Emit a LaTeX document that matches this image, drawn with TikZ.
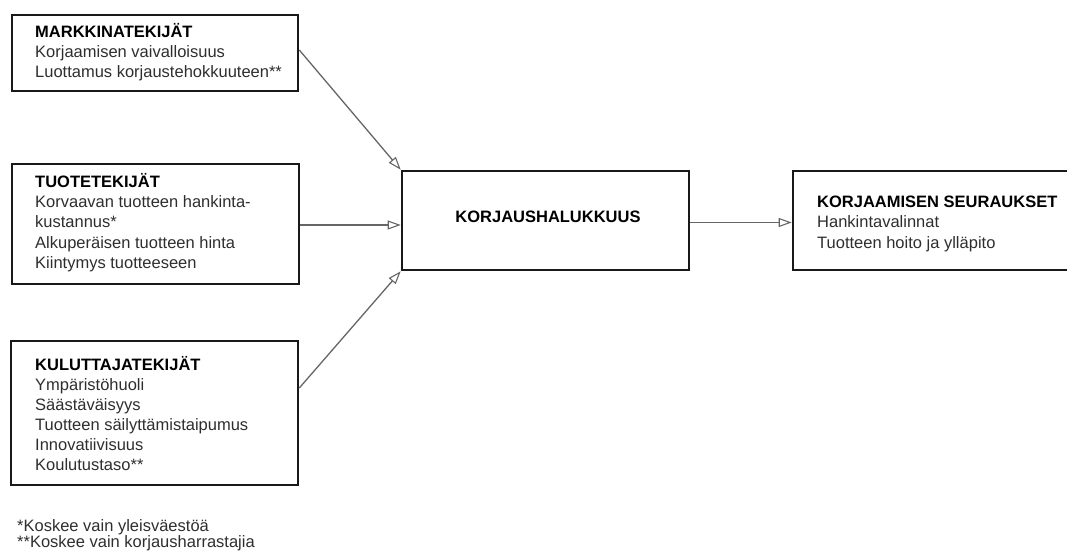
\documentclass[tikz,border=0pt]{standalone}
\usepackage{fontspec}
\setmainfont{Liberation Sans}
\usetikzlibrary{arrows.meta,calc}
\begin{document}
\begin{tikzpicture}[x=1pt,y=-1pt,
  box/.style={draw=black!90,line width=2.6pt,inner sep=0pt,rectangle},
  ttl/.style={anchor=base west,inner sep=0pt,font=\fontsize{16.5}{20}\selectfont\bfseries,text=black},
  txt/.style={anchor=base west,inner sep=0pt,font=\fontsize{16.5}{20}\selectfont,text=black!82},
  conn/.style={draw=black!60,line width=1.3pt,-{Triangle[open,length=13pt,width=9pt,line width=1.1pt]}}]
\useasboundingbox (0,0) rectangle (1067,553);
\clip (0,0) rectangle (1067,553);
% boxes
\node[box,minimum width=286pt,minimum height=76pt] (b1) at (155,53) {};
\node[box,minimum width=287pt,minimum height=120pt] (b2) at (155.5,224) {};
\node[box,minimum width=287pt,minimum height=144pt] (b3) at (154.5,413) {};
\node[box,minimum width=287pt,minimum height=99pt] (c) at (545.5,220.5) {};
\node[box,minimum width=287pt,minimum height=99pt] (r) at (936.5,220.5) {};
% texts
\node[ttl] (t1) at (35,38) {MARKKINATEKIJÄT};
\node[txt] (t1a) at (35,58) {Korjaamisen vaivalloisuus};
\node[txt] (t1b) at (35,78) {Luottamus korjaustehokkuuteen**};
\node[ttl] (t2) at (35,188) {TUOTETEKIJÄT};
\node[txt] (t2a) at (35,208) {Korvaavan tuotteen hankinta-};
\node[txt] (t2b) at (35,228) {kustannus*};
\node[txt] (t2c) at (35,248) {Alkuperäisen tuotteen hinta};
\node[txt] (t2d) at (35,268) {Kiintymys tuotteeseen};
\node[ttl] (t3) at (35,370) {KULUTTAJATEKIJÄT};
\node[txt] (t3a) at (35,390) {Ympäristöhuoli};
\node[txt] (t3b) at (35,410) {Säästäväisyys};
\node[txt] (t3c) at (35,430) {Tuotteen säilyttämistaipumus};
\node[txt] (t3d) at (35,450) {Innovatiivisuus};
\node[txt] (t3e) at (35,470) {Koulutustaso**};
\node[ttl,anchor=base] (tc) at (548,223) {KORJAUSHALUKKUUS};
\node[ttl] (tr) at (817,208) {KORJAAMISEN SEURAUKSET};
\node[txt] (tra) at (817,228) {Hankintavalinnat};
\node[txt] (trb) at (817,248) {Tuotteen hoito ja ylläpito};
\node[txt] (f1) at (17,531) {*Koskee vain yleisväestöä};
\node[txt] (f2) at (17,547) {**Koskee vain korjausharrastajia};
% connectors
\draw[conn] ([yshift=3pt]b1.east) -- (c.north west);
\draw[conn] ([yshift=-1pt]b2.east) -- ([yshift=-1pt]b2.east -| c.west);
\draw[conn] ([yshift=25pt]b3.east) -- (c.south west);
\draw[conn] ([yshift=-2pt]c.east) -- ([yshift=-2pt]c.east -| r.west);
\end{tikzpicture}
\end{document}
